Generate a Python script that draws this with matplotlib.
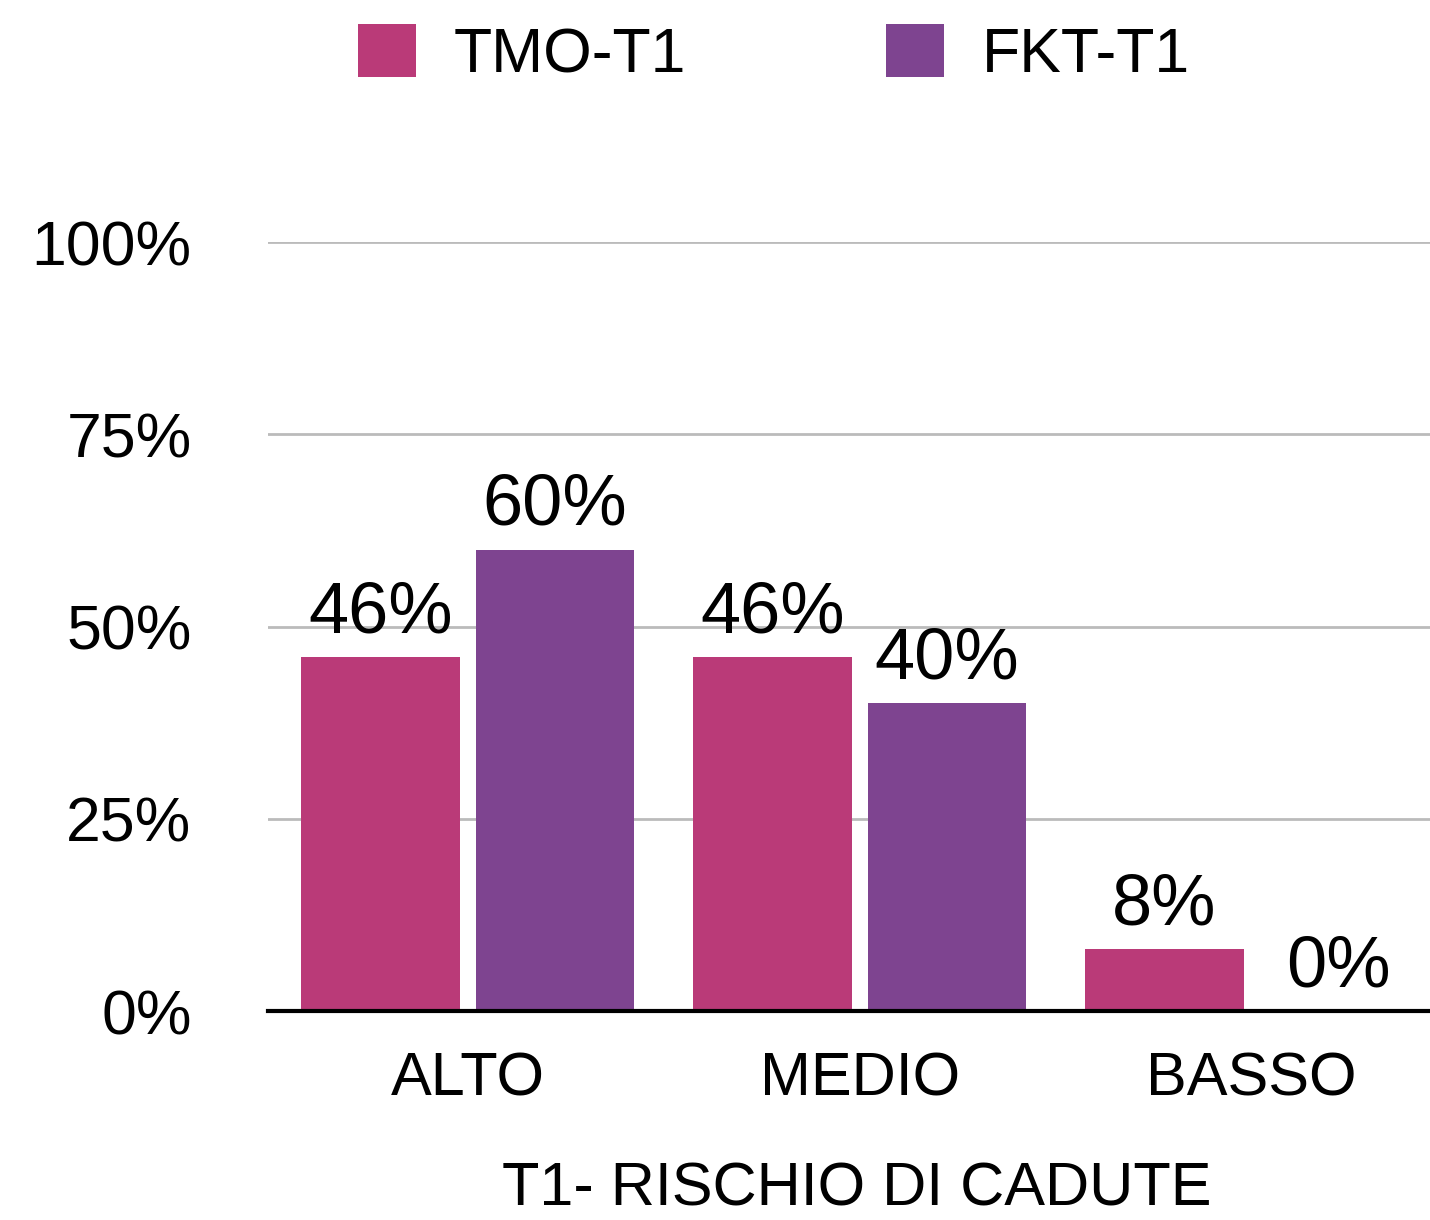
import numpy as np
import matplotlib
matplotlib.use("Agg")
import matplotlib.pyplot as plt
from matplotlib.patches import Patch

categories = ["ALTO", "MEDIO", "BASSO"]
series_names = ["TMO-T1", "FKT-T1"]
tmo_values = [46, 46, 8]
fkt_values = [60, 40, 0]
colors = ["#BA3A78", "#7E4490"]
yticks = [0, 25, 50, 75, 100]

plt.rcParams["font.family"] = ["Liberation Sans", "DejaVu Sans"]

fig = plt.figure(figsize=(14.3, 12.2), dpi=100)
ax = fig.add_axes([0.1874, 0.1713, 0.8126, 0.6303])

x = np.arange(len(categories))
width = 0.405
offset = 0.2225

for vals, name, color, sign in [(tmo_values, series_names[0], colors[0], -1),
                                (fkt_values, series_names[1], colors[1], 1)]:
    bars = ax.bar(x + sign * offset, [v / 100 for v in vals], width=width,
                  color=color, label=name, zorder=3)
    for b, v in zip(bars, vals):
        ax.text(b.get_x() + b.get_width() / 2, b.get_height() + 0.013, f"{v}%",
                ha="center", va="bottom", fontsize=52, zorder=4)

ax.set_xlim(-0.51, 2.455)
ax.set_ylim(0, 1)
ax.set_yticks([t / 100 for t in yticks])
ax.set_yticklabels([f"{t}%" for t in yticks], fontsize=45)
ax.set_xticks(x)
ax.set_xticklabels(categories, fontsize=44)
ax.tick_params(axis="y", length=0, pad=55)
ax.tick_params(axis="x", length=0, pad=29)
ax.set_xlabel("T1- RISCHIO DI CADUTE", fontsize=44)
ax.xaxis.set_label_coords(0.507, -0.196)

ax.grid(axis="y", color="#BBBBBB", linewidth=2, zorder=0)
for side in ["top", "right", "left"]:
    ax.spines[side].set_visible(False)
ax.spines["bottom"].set_linewidth(3)
ax.spines["bottom"].set_zorder(5)

handles = [Patch(facecolor=c, label=n) for c, n in zip(colors, series_names)]
fig.legend(handles=handles, loc="center", bbox_to_anchor=(0.541, 0.955), ncol=2,
           frameon=False, fontsize=45, handlelength=0.93, handleheight=0.93,
           handletextpad=0.6, columnspacing=3.2)

fig.savefig("out.png", dpi=100)
